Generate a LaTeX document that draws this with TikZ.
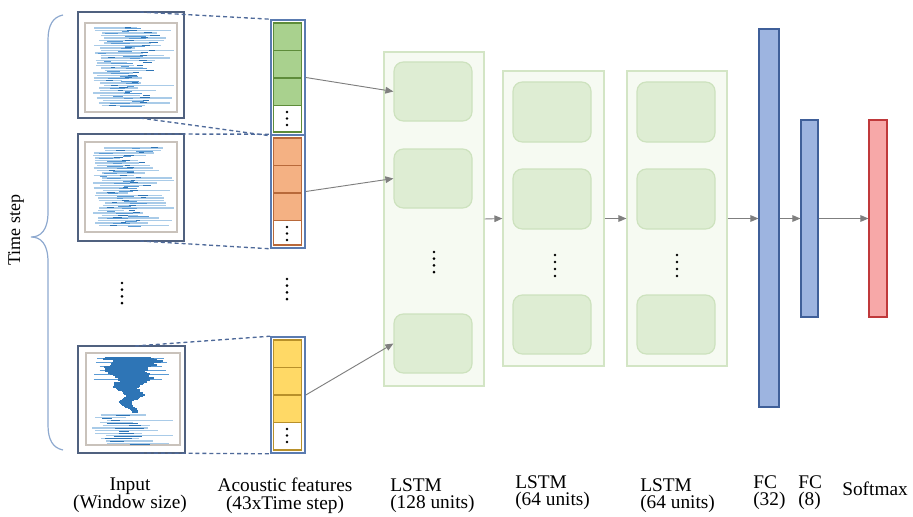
\documentclass[tikz,border=0pt]{standalone}
\usepackage{fontspec}
\setmainfont{Liberation Serif}
\usetikzlibrary{fit,arrows.meta}
\definecolor{frameblue}{HTML}{50617F}
\definecolor{colblue}{HTML}{5A7BB0}
\definecolor{dashblue}{HTML}{4F6A9A}
\definecolor{innergray}{HTML}{C9C2BB}
\definecolor{wavedark}{HTML}{2E75B6}
\definecolor{wavemid}{HTML}{5B9BD5}
\definecolor{wavelight}{HTML}{A9CBE8}
\definecolor{gfill}{HTML}{A9D18E}\definecolor{gdraw}{HTML}{5E8C3A}
\definecolor{ofill}{HTML}{F4B183}\definecolor{odraw}{HTML}{B8693A}
\definecolor{yfill}{HTML}{FFD966}\definecolor{ydraw}{HTML}{B8902A}
\definecolor{lstmfill}{HTML}{F6FAF2}\definecolor{lstmdraw}{HTML}{D3E5C5}
\definecolor{unitfill}{HTML}{DEEDD3}\definecolor{unitdraw}{HTML}{CDE2BE}
\definecolor{fcfill}{HTML}{9DB4E0}\definecolor{fcdraw}{HTML}{3F5F99}
\definecolor{smfill}{HTML}{F7A8A8}\definecolor{smdraw}{HTML}{C0393B}
\definecolor{arrgray}{HTML}{7F7F7F}
\definecolor{bracecol}{HTML}{8EA9CF}
\newcommand\dotcol[4]{\foreach \j in {0,...,#4} \fill (#1,#2+\j*#3) circle[radius=1.1pt];}
\newcommand\featcol[5]{%
  \foreach \k in {0,1,2}
    \node[cellbox, fill=#3, draw=#4, fit={(273.5,#2+3+\k*27.5)(301.5,#2+30.5+\k*27.5)}] (#1c\k) {};
  \node[cellbox, fill=white, draw=#4, fit={(273.5,#2+85.5)(301.5,#2+#5-3)}] (#1c3) {};
  \node[colframe, fit={(271,#2)(305,#2+#5)}] (#1) {};
  \dotcol{287}{#2+92}{6.5}{2}}
\begin{document}
\begin{tikzpicture}[x=0.75pt,y=-0.75pt,
  inframe/.style={draw=frameblue, line width=1.2pt, inner sep=0pt},
  innerframe/.style={draw=innergray, line width=0.8pt, inner sep=0pt},
  colframe/.style={draw=colblue, line width=1.2pt, inner sep=0pt},
  cellbox/.style={line width=0.9pt, inner sep=0pt},
  dashln/.style={draw=dashblue, dash pattern=on 3pt off 2.2pt, line width=1pt},
  lstmbox/.style={fill=lstmfill, draw=lstmdraw, line width=0.9pt, inner sep=0pt},
  unitbox/.style={fill=unitfill, draw=unitdraw, line width=0.9pt, rounded corners=7pt, inner sep=0pt},
  fcbox/.style={fill=fcfill, draw=fcdraw, line width=0.9pt, inner sep=0pt},
  smbox/.style={fill=smfill, draw=smdraw, line width=0.9pt, inner sep=0pt},
  arr/.style={draw=arrgray, line width=0.7pt, -{Triangle[length=6pt,width=5pt]}},
  lab/.style={font=\fontsize{14.5}{13.2}\selectfont, inner sep=0pt}]
\useasboundingbox (0,0) rectangle (913,517);
% brace
\draw[bracecol, line width=0.9pt] (63,15) .. controls (53,17) and (48,25) .. (48,40) -- (48,212)
  .. controls (48,230) and (41,237) .. (31,237) .. controls (41,237) and (48,244) .. (48,262)
  -- (48,425) .. controls (48,440) and (53,448) .. (63,450);
\node[lab, rotate=90, font=\fontsize{13.5}{13.5}\selectfont] (ts) at (16,230) {Time step};
% input images
\node[inframe, fit={(78,12)(184,118)}] (in1) {};
\node[innerframe, fit={(85,23)(177,112)}] (in1i) {};
\node[inframe, fit={(78,134)(184,241)}] (in2) {};
\node[innerframe, fit={(85,142)(177,232)}] (in2i) {};
\node[inframe, fit={(78,346)(185,453)}] (in3) {};
\node[innerframe, fit={(86,353)(180,445)}] (in3i) {};
% waveforms 1 and 2
\pgfmathsetseed{3}
\foreach \yt in {28,148}{
\foreach \i in {0,...,31}{
  \pgfmathsetmacro\yy{\yt+\i*2.5}
  \pgfmathsetmacro\xa{93+12*rnd}
  \pgfmathsetmacro\xb{min(\xa+25+55*rnd,174)}
  \draw[wavelight, line width=0.8pt] (\xa,\yy) -- (\xb,\yy);
  \pgfmathsetmacro\xc{\xa+2+30*rnd}
  \pgfmathsetmacro\xd{min(\xc+6+16*rnd,170)}
  \draw[wavemid, line width=0.6pt] (\xc,\yy+0.5) -- (\xd,\yy+0.5);
  \pgfmathsetmacro\xe{\xa+5+45*rnd}
  \draw[wavedark, line width=0.4pt] (\xe,\yy-0.4) -- (\xe+4+6*rnd,\yy-0.4);
}}
% waveform 3
\foreach \i in {0,...,5}{
  \pgfmathsetmacro\yy{358+\i*4.2}
  \pgfmathsetmacro\xa{92+8*rnd}
  \pgfmathsetmacro\xb{160+13*rnd}
  \draw[wavemid, line width=0.6pt] (\xa,\yy) -- (\xb,\yy);
}
\foreach \i in {0,...,54}{
  \pgfmathsetmacro\yy{358+\i}
  \pgfmathsetmacro\w{27*(1-\i/54)^1.1+3}
  \pgfmathsetmacro\c{130+5*sin(\i*22)}
  \pgfmathsetmacro\xa{\c-\w*(0.65+0.35*rnd)}
  \pgfmathsetmacro\xb{\c+\w*(0.65+0.35*rnd)}
  \draw[wavedark, line width=1.3pt] (\xa,\yy) -- (\xb,\yy);
}
\foreach \i in {0,...,11}{
  \pgfmathsetmacro\yy{415+\i*2.6}
  \pgfmathsetmacro\xa{92+15*rnd}
  \pgfmathsetmacro\xb{min(\xa+30+50*rnd,176)}
  \draw[wavelight, line width=0.9pt] (\xa,\yy) -- (\xb,\yy);
  \pgfmathsetmacro\xc{\xa+3+25*rnd}
  \pgfmathsetmacro\xd{min(\xc+8+25*rnd,172)}
  \draw[wavedark, line width=0.6pt] (\xc,\yy+0.4) -- (\xd,\yy+0.4);
}
\dotcol{122}{283}{6.7}{3}
% feature columns
\featcol{f1}{20}{gfill}{gdraw}{115}
\featcol{f2}{135}{ofill}{odraw}{113}
\featcol{f3}{337}{yfill}{ydraw}{116}
\dotcol{287}{279}{6.7}{3}
% dashed projections
\coordinate (d1a) at (140,12); \coordinate (d1b) at (140,118);
\coordinate (d2a) at (140,134); \coordinate (d2b) at (140,241);
\coordinate (d3a) at (135,346); \coordinate (d3b) at (140,453);
\draw[dashln] (d1a) -- (f1.north west);
\draw[dashln] (d1b) -- (f1.south west);
\draw[dashln] (d2a) -- (f2.north west);
\draw[dashln] (d2b) -- (f2.south west);
\draw[dashln] (d3a) -- (f3.north west);
\draw[dashln] (d3b) -- (f3.south west);
% LSTM layers
\node[lstmbox, fit={(384,52)(484,386)}] (l1) {};
\node[unitbox, fit={(394,62)(472,121)}] (l1u1) {};
\node[unitbox, fit={(394,149)(472,208)}] (l1u2) {};
\node[unitbox, fit={(394,314)(472,373)}] (l1u3) {};
\dotcol{434}{252}{6.7}{3}
\node[lstmbox, fit={(503,71)(604,366)}] (l2) {};
\node[unitbox, fit={(513,82)(591,142)}] (l2u1) {};
\node[unitbox, fit={(513,169)(591,229)}] (l2u2) {};
\node[unitbox, fit={(513,295)(591,354)}] (l2u3) {};
\dotcol{555}{255}{7}{3}
\node[lstmbox, fit={(627,71)(727,366)}] (l3) {};
\node[unitbox, fit={(637,82)(715,142)}] (l3u1) {};
\node[unitbox, fit={(637,169)(715,229)}] (l3u2) {};
\node[unitbox, fit={(637,295)(715,354)}] (l3u3) {};
\dotcol{677}{255}{7}{3}
% dense layers
\node[fcbox, fit={(759,29)(779,407)}] (fc1) {};
\node[fcbox, fit={(801,120)(818,317)}] (fc2) {};
\node[smbox, fit={(869,120)(887,317)}] (sm) {};
% connectors
\draw[arr] (f1.east) -- (l1u1.west);
\draw[arr] (f2.east) -- (l1u2.west);
\draw[arr] (f3.east) -- (l1u3.west);
\draw[arr] (l1.east) -- (l2.west);
\draw[arr] (l2.east) -- (l3.west);
\draw[arr] (l3.east) -- (l3.east -| fc1.west);
\draw[arr] (fc1.east |- l3.east) -- (l3.east -| fc2.west);
\draw[arr] (fc2.east |- l3.east) -- (l3.east -| sm.west);
% labels
\node[lab, align=center] (t1) at (130,495.5) {Input\\(Window size)};
\node[lab, align=center] (t2) at (285,495.5) {Acoustic features\\(43xTime step)};
\node[lab, align=left, anchor=west] (t3) at (390,495.5) {LSTM\\(128 units)};
\node[lab, align=left, anchor=west] (t4) at (515,492.5) {LSTM\\(64 units)};
\node[lab, align=left, anchor=west] (t5) at (640,495.5) {LSTM\\(64 units)};
\node[lab, align=left, anchor=west] (t6) at (753,492.5) {FC\\(32)};
\node[lab, align=left, anchor=west] (t7) at (798,492.5) {FC\\(8)};
\node[lab, anchor=base west] (t8) at (842,495.5) {Softmax};
\end{tikzpicture}
\end{document}
